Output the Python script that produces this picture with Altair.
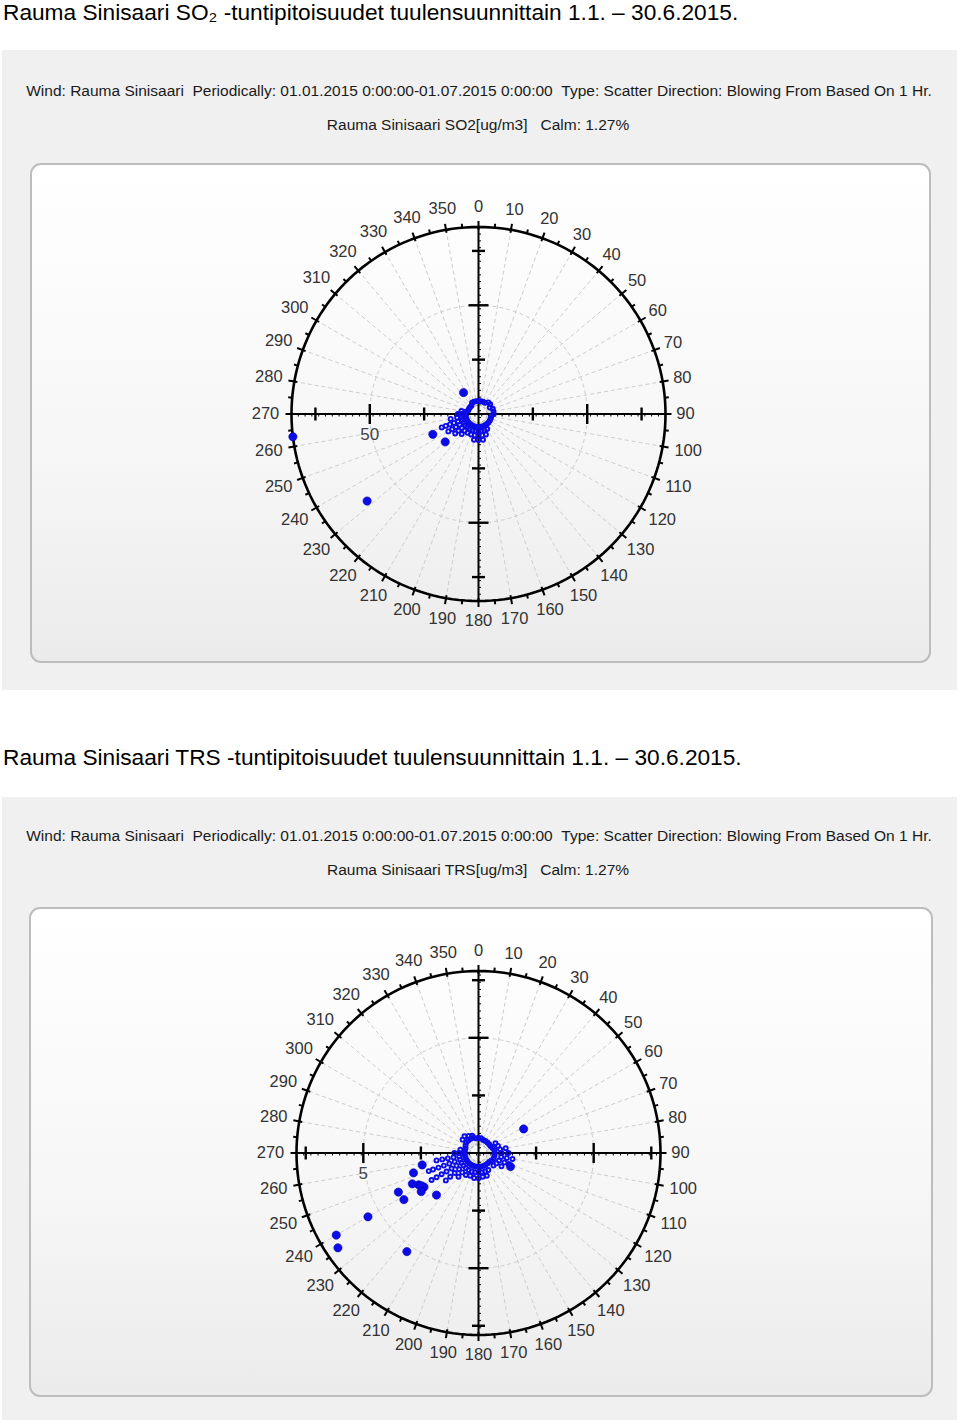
import altair as alt
import pandas as pd

# ---------------- texts ----------------
NB = "\u00a0"
TITLE1 = "Rauma Sinisaari SO\u2082 -tuntipitoisuudet tuulensuunnittain 1.1. \u2013 30.6.2015."
TITLE2 = "Rauma Sinisaari TRS -tuntipitoisuudet tuulensuunnittain 1.1. \u2013 30.6.2015."
HEADER = ("Wind: Rauma Sinisaari" + NB * 2 + "Periodically: 01.01.2015 0:00:00-01.07.2015 0:00:00" + NB * 2 +
          "Type: Scatter Direction: Blowing From Based On 1 Hr.")
SUB1 = "Rauma Sinisaari SO2[ug/m3]" + NB * 3 + "Calm: 1.27%"
SUB2 = "Rauma Sinisaari TRS[ug/m3]" + NB * 3 + "Calm: 1.27%"

DIR_LABELS = [0, 10, 20, 30, 40, 50, 60, 70, 80, 90, 100, 110, 120, 130, 140, 150, 160, 170,
              180, 190, 200, 210, 220, 230, 240, 250, 260, 270, 280, 290, 300, 310, 320, 330, 340, 350]

# ---------------- SO2 data (direction deg, concentration ug/m3) ----------------
SO2_DIR = [0, 10, 20, 30, 40, 50, 60, 70, 80, 90, 100, 110, 120, 130, 140, 150, 160, 170,
           180, 190, 200, 210, 220, 230, 240, 250, 260, 270, 280, 290, 300, 310, 320, 330, 340, 350,
           150, 160, 160, 170, 170, 170, 180, 180, 180, 190, 190, 190, 200, 200, 210, 210,
           220, 220, 220, 230, 230, 230, 230, 240, 240, 240, 240, 240,
           250, 250, 250, 250, 250, 250, 260, 260, 260, 270, 270, 280]
SO2_VAL = [6, 6, 6, 6, 7, 7, 6, 7, 7, 7, 6, 6, 6, 6, 6, 6, 6, 6,
           6, 6, 6, 6, 6, 6, 6, 6, 6, 6, 6, 5, 5, 5, 5, 6, 6, 6,
           8, 8, 10, 8, 10, 12, 8, 10, 12, 8, 10, 12, 8, 10, 8, 10,
           8, 10, 12, 8, 10, 12, 14, 8, 10, 12, 14, 16,
           8, 10, 12, 14, 16, 18, 8, 10, 13, 8, 9.5, 8]
SO2_OUT_DIR = [325, 263, 232, 246, 230]
SO2_OUT_VAL = [12, 86, 65, 23, 20]

# ---------------- TRS data ----------------
TRS_DIR = [0, 10, 20, 30, 40, 50, 60, 70, 80, 90, 100, 110, 120, 130, 140, 150, 160, 170,
           180, 190, 200, 210, 220, 230, 240, 250, 260, 270, 280, 290, 300, 310, 320, 330, 340, 350,
           310, 320, 330, 340,
           60, 70, 80, 80, 90, 90, 100, 100, 100, 110, 110, 110, 120, 120, 130,
           150, 160, 160, 170, 170, 180, 180, 190, 190, 200, 200, 210, 210,
           220, 220, 220, 230, 230, 230, 230, 230, 240, 240, 240, 240, 240, 240, 240,
           250, 250, 250, 250, 250, 250, 250, 260, 260, 260, 260, 260, 270, 270, 280]
TRS_VAL = [0.65, 0.65, 0.6, 0.6, 0.6, 0.6, 0.6, 0.65, 0.7, 0.7, 0.7, 0.7, 0.65, 0.6, 0.6, 0.6, 0.6, 0.6,
           0.6, 0.6, 0.6, 0.6, 0.6, 0.6, 0.6, 0.6, 0.6, 0.6, 0.6, 0.6, 0.65, 0.7, 0.7, 0.7, 0.7, 0.65,
           0.9, 0.95, 0.85, 0.8,
           0.85, 0.9, 0.95, 1.2, 1.0, 1.3, 1.0, 1.25, 1.5, 0.95, 1.2, 1.4, 0.9, 1.15, 0.85,
           0.85, 0.85, 1.05, 0.85, 1.05, 0.85, 1.1, 0.85, 1.1, 0.85, 1.05, 0.85, 1.1,
           0.85, 1.1, 1.35, 0.85, 1.1, 1.35, 1.6, 1.85, 0.85, 1.1, 1.35, 1.6, 1.85, 2.1, 2.35,
           0.85, 1.1, 1.35, 1.6, 1.85, 2.1, 2.3, 0.85, 1.1, 1.35, 1.6, 1.85, 0.85, 1.05, 0.8]
TRS_OUT_DIR = [62, 258, 253, 242, 245, 238, 244, 238, 225, 240, 240, 236, 216, 113, 240, 236]
TRS_OUT_VAL = [2.22, 2.5, 2.95, 2.94, 3.17, 2.79, 3.87, 3.82, 2.58, 5.54, 7.13, 7.36, 5.29, 1.51, 2.85, 3.0]

FONT = "Liberation Sans, Arial, sans-serif"
BLUE = "#0c0ce8"
W = 960


def polar_section(H, cx, cy, Rpx, Ru, step, lab_text, c_dir, c_val, o_dir, o_val,
                  title, sub, box, panel, head_y):
    k = Rpx / Ru  # px per unit
    xs = alt.Scale(domain=[-cx / k, (W - cx) / k], nice=False, zero=False)
    ys = alt.Scale(domain=[-(H - cy) / k, cy / k], nice=False, zero=False)

    def X(f):
        return alt.X(f, type="quantitative", scale=xs, axis=None)

    def Y(f):
        return alt.Y(f, type="quantitative", scale=ys, axis=None)

    one = pd.DataFrame({"o": [0]})
    layers = []

    layers.append(alt.Chart(one).mark_rect(fill="#f0f0f0").encode(
        x=alt.value(box[0]), x2=alt.value(box[1]), y=alt.value(box[2]), y2=alt.value(box[3])))
    grad = alt.Gradient(gradient="linear",
                        stops=[alt.GradientStop(color="#ffffff", offset=0),
                               alt.GradientStop(color="#f6f6f6", offset=0.6),
                               alt.GradientStop(color="#ebebeb", offset=1)],
                        x1=0, x2=0, y1=0, y2=1)
    layers.append(alt.Chart(one).mark_rect(fill=grad, cornerRadius=10, stroke="#bdbdbd",
                                           strokeWidth=2).encode(
        x=alt.value(panel[0]), x2=alt.value(panel[1]), y=alt.value(panel[2]), y2=alt.value(panel[3])))
    layers.append(alt.Chart(one).mark_text(text=title, align="left", baseline="middle",
                                           fontSize=22.7, font=FONT, color="#000").encode(
        x=alt.value(3), y=alt.value(13)))
    layers.append(alt.Chart(one).mark_text(text=HEADER, align="center", baseline="middle",
                                           fontSize=15.5, font=FONT, color="#1a1a1a").encode(
        x=alt.value(479), y=alt.value(head_y[0])))
    layers.append(alt.Chart(one).mark_text(text=sub, align="center", baseline="middle",
                                           fontSize=15.5, font=FONT, color="#1a1a1a").encode(
        x=alt.value(478), y=alt.value(head_y[1])))

    rc = 8.5 / k
    # spokes
    layers.append(alt.Chart(alt.sequence(0, 360, 10, as_="a")).transform_calculate(
        x1=f"{rc}*sin(datum.a*PI/180)", y1=f"{rc}*cos(datum.a*PI/180)",
        xe=f"{Ru}*sin(datum.a*PI/180)", ye=f"{Ru}*cos(datum.a*PI/180)",
    ).mark_rule(color="#cdcdcd", strokeDash=[4, 3], strokeWidth=1).encode(
        x=X("x1"), y=Y("y1"), x2="xe:Q", y2="ye:Q"))

    def ring(r, color, width, dash=None):
        kw = dict(color=color, strokeWidth=width)
        if dash:
            kw["strokeDash"] = dash
        return alt.Chart(alt.sequence(0, 362, 2, as_="a")).transform_calculate(
            px=f"{r}*sin(datum.a*PI/180)", py=f"{r}*cos(datum.a*PI/180)"
        ).mark_line(**kw).encode(x=X("px"), y=Y("py"), order="a:Q")

    layers.append(ring(2 * step, "#cdcdcd", 1, [4, 3]))
    layers.append(ring(rc, "#b5b5b5", 1.2, [3, 2]))
    layers.append(ring(Ru, "#000", 2.6))

    # outer ticks
    layers.append(alt.Chart(alt.sequence(0, 360, 5, as_="a")).transform_calculate(
        r1=f"datum.a % 10 == 0 ? {Ru - 3 / k} : {Ru}",
        r2=f"datum.a % 10 == 0 ? {Ru + 6 / k} : {Ru + 4 / k}",
    ).transform_calculate(
        x1="datum.r1*sin(datum.a*PI/180)", y1="datum.r1*cos(datum.a*PI/180)",
        xe="datum.r2*sin(datum.a*PI/180)", ye="datum.r2*cos(datum.a*PI/180)",
    ).mark_rule(color="#000", strokeWidth=2).encode(x=X("x1"), y=Y("y1"), x2="xe:Q", y2="ye:Q"))

    # axes through centre
    ax = pd.DataFrame({"x1": [-Ru, 0], "y1": [0, -Ru], "xe": [Ru, 0], "ye": [0, Ru]})
    layers.append(alt.Chart(ax).mark_rule(color="#000", strokeWidth=2).encode(
        x=X("x1"), y=Y("y1"), x2="xe:Q", y2="ye:Q"))

    # minor ticks on axes
    m = step / 8
    layers.append(alt.Chart(alt.sequence(-Ru, Ru, m, as_="t")).transform_calculate(
        y1="0", ye=f"{-2.5 / k}").mark_rule(color="#000", strokeWidth=1).encode(
        x=X("t"), y=Y("y1"), y2="ye:Q"))
    layers.append(alt.Chart(alt.sequence(-Ru, Ru, m, as_="t")).transform_calculate(
        x1="0", xe=f"{2.5 / k}").mark_rule(color="#000", strokeWidth=1).encode(
        x=X("x1"), x2="xe:Q", y=Y("t")))

    # major ticks on axes
    ticks = pd.DataFrame({"t": [-3 * step, -2 * step, -step, step, 2 * step, 3 * step],
                          "L": [6.5, 10, 6.5, 6.5, 10, 6.5]})
    layers.append(alt.Chart(ticks).transform_calculate(
        y1=f"-datum.L/{k}", ye=f"datum.L/{k}").mark_rule(color="#000", strokeWidth=2.4).encode(
        x=X("t"), y=Y("y1"), y2="ye:Q"))
    layers.append(alt.Chart(ticks).transform_calculate(
        x1=f"-datum.L/{k}", xe=f"datum.L/{k}").mark_rule(color="#000", strokeWidth=2.4).encode(
        x=X("x1"), x2="xe:Q", y=Y("t")))

    # radial axis label
    lab = pd.DataFrame({"t": [-2 * step], "y0": [0], "s": [lab_text]})
    layers.append(alt.Chart(lab).mark_text(fontSize=17, font=FONT, color="#444", dy=21,
                                           baseline="middle").encode(
        x=X("t"), y=Y("y0"), text="s:N"))

    # direction labels
    dl = pd.DataFrame({"d": DIR_LABELS})
    layers.append(alt.Chart(dl).transform_calculate(
        lr=f"({Rpx} + 20 + (datum.d >= 100 ? 6*abs(sin(datum.d*PI/180)) : 0))/{k}"
    ).transform_calculate(
        lx="datum.lr*sin(datum.d*PI/180)", ly="datum.lr*cos(datum.d*PI/180)"
    ).mark_text(fontSize=16.5, font=FONT, color="#333", baseline="middle").encode(
        x=X("lx"), y=Y("ly"), text=alt.Text("d:Q", format="d")))

    # scatter points
    cl = pd.DataFrame({"d": c_dir, "v": c_val})
    layers.append(alt.Chart(cl).transform_calculate(
        px="datum.v*sin(datum.d*PI/180)", py="datum.v*cos(datum.d*PI/180)"
    ).mark_point(shape="circle", filled=False, size=16, strokeWidth=1.9, color=BLUE, opacity=1).encode(
        x=X("px"), y=Y("py")))
    ol = pd.DataFrame({"d": o_dir, "v": o_val})
    layers.append(alt.Chart(ol).transform_calculate(
        px="datum.v*sin(datum.d*PI/180)", py="datum.v*cos(datum.d*PI/180)"
    ).mark_circle(size=68, color=BLUE, opacity=1, stroke="#0000b0", strokeWidth=0.6).encode(
        x=X("px"), y=Y("py")))

    return alt.layer(*layers).properties(width=W, height=H)


H1 = 745
H2 = 1425 - H1
sec1 = polar_section(H1, 478.5, 414, 187, 86, 25, "50", SO2_DIR, SO2_VAL, SO2_OUT_DIR, SO2_OUT_VAL,
                     TITLE1, SUB1, (2, 957, 50, 690), (31, 930, 164, 662), (91, 125))
sec2 = polar_section(H2, 478.5, 1153 - H1, 182, 7.9, 2.5, "5", TRS_DIR, TRS_VAL, TRS_OUT_DIR, TRS_OUT_VAL,
                     TITLE2, SUB2, (2, 957, 797 - H1, 1420 - H1), (30, 932, 908 - H1, 1396 - H1),
                     (836 - H1, 870 - H1))

chart = alt.vconcat(sec1, sec2, spacing=0).properties(
    padding=0, background="white"
).configure_view(strokeWidth=0).configure_concat(spacing=0)

chart.save("out.html", embed_options={"renderer": "svg", "actions": False})
